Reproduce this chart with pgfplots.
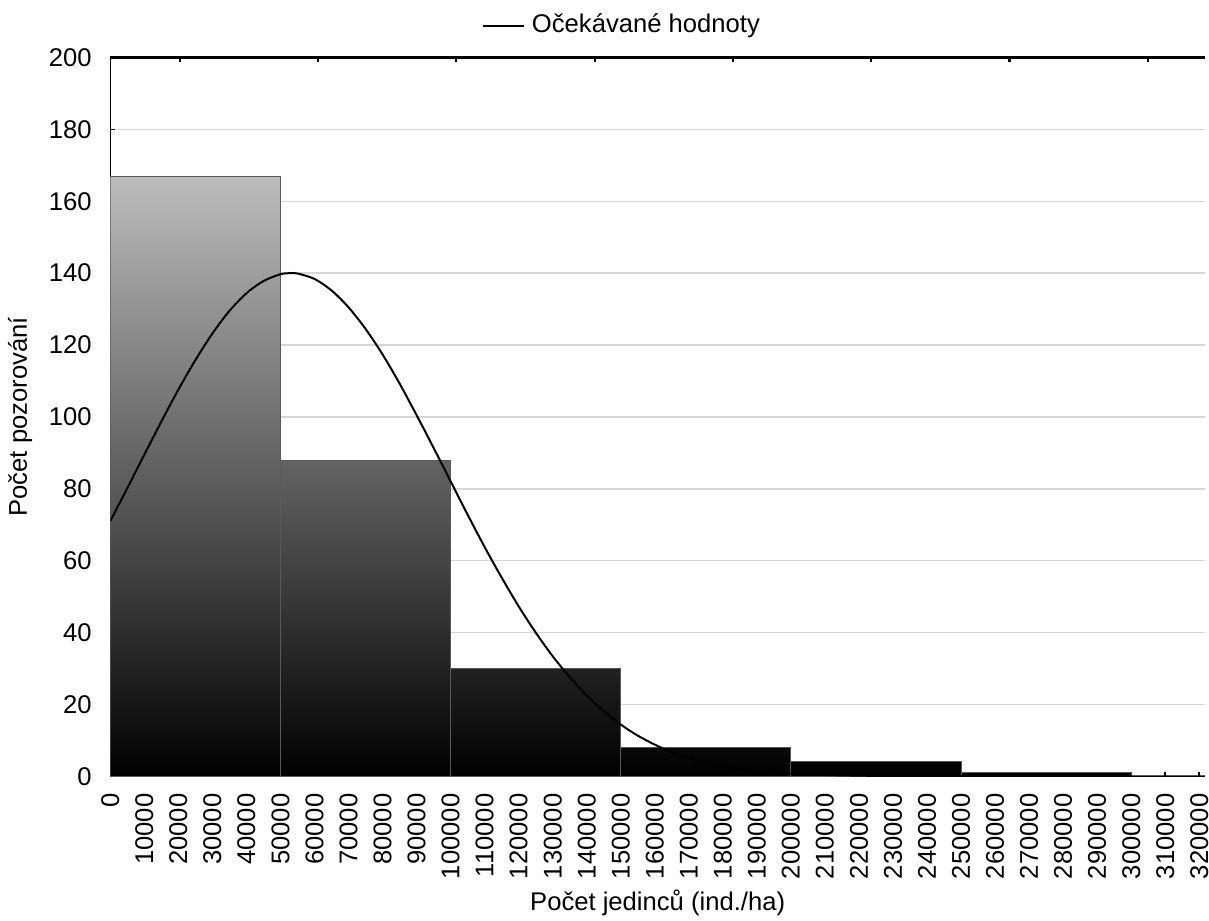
\documentclass[border=0pt]{standalone}
\usepackage{pgfplots}
\pgfplotsset{compat=1.18}
\usepackage{fontspec}
\setmainfont{Liberation Sans}

\begin{document}
\begin{tikzpicture}
\tikzset{chartfont/.style={font=\fontsize{7.7}{9}\selectfont}}
\pgfplotsset{
  histo/.style={ybar interval, draw=black!65, line width=0.3pt, bottom color=black, forget plot},
  frame/.style={scale only axis, width=329pt, height=216pt,
    xmin=0, xmax=321700, ymin=0, ymax=200, scaled ticks=false},
}
% histogram with expected normal curve
\begin{axis}[
  frame,
  axis x line*=bottom, axis y line*=left,
  x axis line style={-, draw=black!60, line width=0.3pt},
  y axis line style={-, draw=black, line width=0.45pt},
  tick align=inside,
  major tick length=1.35pt,
  tick style={black, line width=0.45pt},
  xtick={0,10000,...,320000},
  ytick={0,20,...,200},
  /pgf/number format/.cd, fixed, precision=0, 1000 sep={}, assume math mode=true,
  /pgfplots/.cd,
  tick label style={chartfont, black},
  xticklabel style={rotate=90, anchor=east, inner ysep=0pt},
  xticklabel shift=1.65pt,
  yticklabel shift=2.1pt,
  ymajorgrids,
  grid style={draw=black!16, line width=0.45pt},
  xlabel={Počet jedinců (ind./ha)},
  ylabel={Počet pozorování},
  xlabel style={chartfont, at={(axis description cs:0.5,-0.1865)}, anchor=base},
  ylabel style={chartfont, at={(axis description cs:-0.0761,0.5)}, anchor=base},
  legend style={chartfont, draw=none, fill=none, at={(axis description cs:0.4697,1.044)}, anchor=center, inner sep=0pt},
  legend image code/.code={\draw[#1] (0pt,0pt) -- (12.3pt,0pt);},
]
\addplot[histo, top color=black!26] coordinates {(0,167) (50000,167)};
\addplot[histo, top color=black!61] coordinates {(50000,88) (100000,88)};
\addplot[histo, top color=black!87] coordinates {(100000,30) (150000,30)};
\addplot[histo, top color=black!96.5] coordinates {(150000,8) (200000,8)};
\addplot[histo, top color=black!98] coordinates {(200000,4) (250000,4)};
\addplot[histo, top color=black!99.5] coordinates {(250000,1) (300000,1)};

\addplot[black, line width=0.6pt, smooth] coordinates {
(0,71.0) (5000,80.2) (10000,89.5) (15000,98.7) (20000,107.6) (25000,115.8)
(30000,123.2) (35000,129.5) (40000,134.4) (45000,137.8) (50000,139.7) (53000,140.0)
(55000,139.9) (60000,138.4) (65000,135.2) (70000,130.5) (75000,124.5) (80000,117.4)
(85000,109.3) (90000,100.5) (95000,91.4) (100000,82.1) (105000,72.8) (110000,63.8)
(115000,55.3) (120000,47.3) (125000,40.0) (130000,33.4) (135000,27.6) (140000,22.5)
(145000,18.1) (150000,14.4) (155000,11.3) (160000,8.8) (165000,6.7) (170000,5.1)
(175000,3.8) (180000,2.8) (185000,2.1) (190000,1.5) (195000,1.07) (200000,0.76)
(210000,0.36) (220000,0.17) (230000,0.07) (250000,0.01) (280000,0) (321700,0)
};
\addlegendentry{Očekávané hodnoty}
\coordinate (sw) at (rel axis cs:0,0);
\coordinate (ne) at (rel axis cs:1,1);
\end{axis}

% top frame line with its own tick marks
\begin{axis}[
  frame,
  axis x line*=top, axis y line=none,
  x axis line style={-, draw=black, line width=0.65pt},
  tick align=inside,
  major tick length=1.35pt,
  xtick style={black, line width=0.65pt},
  xtick={20400,61040,101680,142320,182960,223600,264240,304880},
  xticklabels={},
  ytick=\empty,
]
\end{axis}
% page margins as in the reference
\pgfresetboundingbox
\path[use as bounding box] ([shift={(-33.15pt,-43.3pt)}]sw) rectangle ([shift={(1.2pt,17.3pt)}]ne);
\end{tikzpicture}
\end{document}
